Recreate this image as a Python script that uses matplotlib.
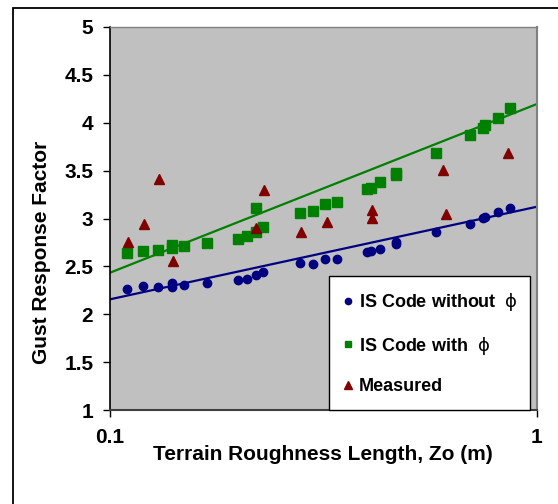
import numpy as np
import matplotlib
matplotlib.use("Agg")
import matplotlib.pyplot as plt
from matplotlib.patches import Rectangle

plt.rcParams['font.family'] = ['Liberation Sans', 'DejaVu Sans']
plt.rcParams['mathtext.fontset'] = 'dejavusans'

# IS Code without phi
x_without = [0.1094, 0.1197, 0.1298, 0.140, 0.140, 0.1493, 0.169, 0.1998, 0.2097, 0.2194,
             0.2286, 0.2786, 0.2984, 0.3188, 0.3396, 0.399, 0.4087, 0.4287, 0.4674, 0.4674,
             0.580, 0.698, 0.748, 0.755, 0.809, 0.865]
y_without = [2.267, 2.295, 2.281, 2.330, 2.288, 2.306, 2.330, 2.358, 2.368, 2.407,
             2.445, 2.539, 2.528, 2.574, 2.574, 2.650, 2.661, 2.685, 2.734, 2.758,
             2.859, 2.943, 3.002, 3.019, 3.071, 3.106]

# IS Code with phi
x_with = [0.1094, 0.1197, 0.1298, 0.140, 0.140, 0.1493, 0.169, 0.1998, 0.2097, 0.2194,
          0.2194, 0.2286, 0.2786, 0.2984, 0.3188, 0.3396, 0.399, 0.4087, 0.4287, 0.4674,
          0.4674, 0.580, 0.698, 0.748, 0.755, 0.809, 0.865]
y_with = [2.636, 2.661, 2.671, 2.723, 2.689, 2.713, 2.747, 2.786, 2.820, 2.856,
          3.106, 2.908, 3.054, 3.082, 3.151, 3.175, 3.311, 3.322, 3.378, 3.454,
          3.478, 3.687, 3.872, 3.948, 3.977, 4.047, 4.151]

# Measured
x_meas = [0.110, 0.1203, 0.1304, 0.1407, 0.2203, 0.2298, 0.280, 0.3217, 0.410, 0.410,
          0.601, 0.612, 0.857]
y_meas = [2.758, 2.939, 3.409, 2.559, 2.904, 3.298, 2.862, 2.967, 3.089, 3.002,
          3.507, 3.047, 3.684]

# Logarithmic trend lines (values read at the axis ends)
trend_x = [0.1, 1.0]
trend_without = [2.156, 3.123]
trend_with = [2.434, 4.196]

y_ticks = [1, 1.5, 2, 2.5, 3, 3.5, 4, 4.5, 5]
y_tick_labels = ['1', '1.5', '2', '2.5', '3', '3.5', '4', '4.5', '5']
x_ticks = [0.1, 1]
x_tick_labels = ['0.1', '1']

label_without = 'IS Code without  $\\mathrm{\\phi}$'
label_with = 'IS Code with  $\\mathrm{\\phi}$'
label_meas = 'Measured'

W, H = 558, 504
fig = plt.figure(figsize=(W / 100, H / 100), dpi=100)
fig.patch.set_facecolor('white')

# outer chart border
fig.patches.append(Rectangle((13 / W, -0.2), 1.5, 1 - 8 / H + 0.2, transform=fig.transFigure,
                             fill=False, edgecolor='black', linewidth=1.3))

ax = fig.add_axes([110 / W, 1 - 410 / H, (537 - 110) / W, (410 - 27) / H])
ax.set_facecolor('#c0c0c0')
ax.set_xscale('log')
ax.set_xlim(0.1, 1)
ax.set_ylim(1, 5)

blue = '#000080'
green = '#008000'
red = '#800000'

ax.plot(trend_x, trend_without, color=blue, lw=1.6, zorder=2)
ax.plot(trend_x, trend_with, color=green, lw=1.6, zorder=2)

ax.plot(x_without, y_without, 'o', color=blue, ms=6, mec=blue, label=label_without, zorder=3)
ax.plot(x_with, y_with, 's', color=green, ms=6.5, mec=green, label=label_with, zorder=3)
ax.plot(x_meas, y_meas, '^', color=red, ms=7.5, mec=red, label=label_meas, zorder=3)

ax.set_yticks(y_ticks)
ax.set_yticklabels(y_tick_labels)
ax.set_xticks(x_ticks)
ax.set_xticklabels(x_tick_labels)
ax.xaxis.set_minor_locator(matplotlib.ticker.NullLocator())

for lab in ax.get_xticklabels() + ax.get_yticklabels():
    lab.set_fontweight('bold')
    lab.set_fontsize(15)

ax.tick_params(axis='y', direction='out', length=5, width=1, pad=7, color='black')
ax.tick_params(axis='x', direction='out', length=5, width=1, pad=8, color='black')

ax.spines['left'].set_color('black')
ax.spines['left'].set_linewidth(1.2)
ax.spines['bottom'].set_color('#404040')
ax.spines['bottom'].set_linewidth(1.5)
ax.spines['top'].set_color('#808080')
ax.spines['right'].set_color('#808080')
ax.spines['top'].set_linewidth(1)
ax.spines['right'].set_linewidth(1.5)

ax.set_ylabel('Gust Response Factor', fontsize=15, fontweight='bold')
ax.set_xlabel('Terrain Roughness Length, Zo (m)', fontsize=15, fontweight='bold')
ax.yaxis.set_label_coords(42 / W, 0.5, transform=fig.transFigure)
ax.yaxis.label.set_va('center')
ax.xaxis.set_label_coords(323 / W, 1 - 455 / H, transform=fig.transFigure)
ax.xaxis.label.set_va('center')

leg = ax.legend(loc='upper left', bbox_to_anchor=(329 / W, 1 - 405 / H, (530 - 329) / W, (405 - 276) / H),
                bbox_transform=fig.transFigure, mode='expand', frameon=True, fancybox=False,
                edgecolor='black', facecolor='white', framealpha=1,
                prop={'weight': 'bold', 'size': 13}, handlelength=0.4, handletextpad=0.4,
                labelspacing=1.18, borderpad=0.85, markerscale=0.75, borderaxespad=0)
leg.get_frame().set_linewidth(1)

fig.savefig('out.png', dpi=100)
